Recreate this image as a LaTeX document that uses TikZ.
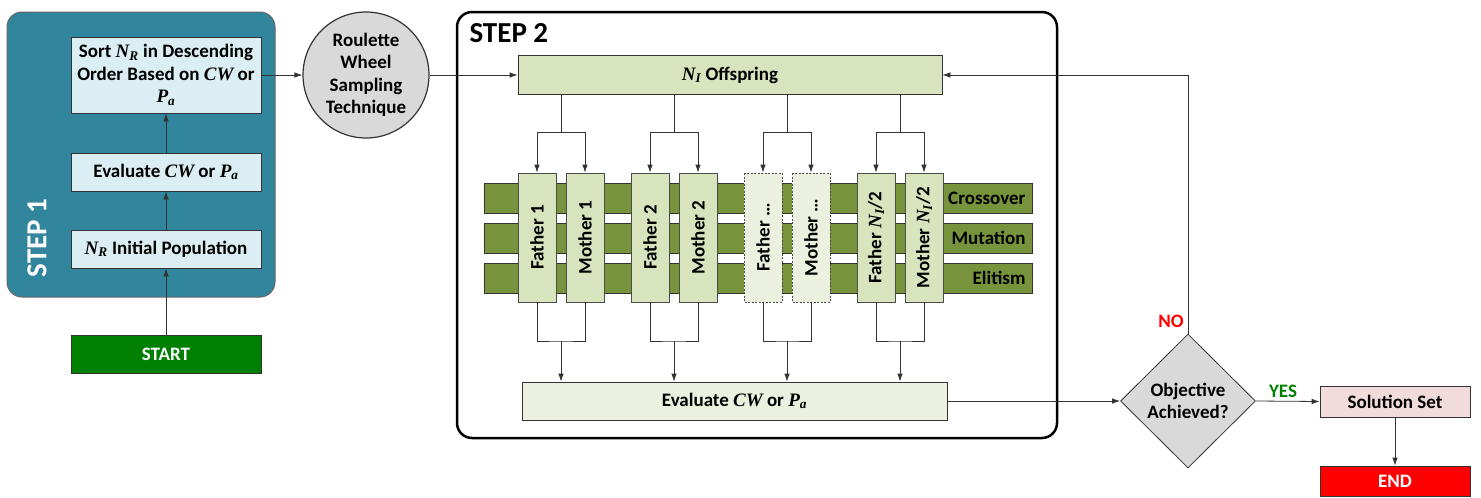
\documentclass[tikz,border=0pt]{standalone}
\usepackage{fontspec}
\setmainfont{Carlito}
\newfontfamily\tms{Liberation Serif}
\usepackage{xcolor}
\usetikzlibrary{shapes.geometric,arrows.meta,calc}

\definecolor{stepteal}{HTML}{31859C}
\definecolor{lightaqua}{HTML}{DAEEF3}
\definecolor{olivebar}{HTML}{77933C}
\definecolor{olivebox}{HTML}{D7E4BD}
\definecolor{olivepale}{HTML}{EBF1DE}
\definecolor{lightgrey}{HTML}{D9D9D9}
\definecolor{pinkish}{HTML}{F2DCDB}
\definecolor{startgreen}{RGB}{0,128,0}

\newcommand{\var}[1]{{\tms\itshape #1}}
\newcommand{\sym}[2]{{\tms\itshape #1\textsubscript{#2}}}

\begin{document}
\begin{tikzpicture}[x=1pt,y=-1pt,
    font=\fontsize{19}{22.5}\selectfont\bfseries,
    >={Latex[length=8pt,width=5.5pt]},
    box/.style={draw=black!80, line width=0.8pt, minimum width=190pt,
      minimum height=38pt, inner sep=2pt, align=center},
    pair/.style={draw=black!70, line width=0.8pt, fill=olivebox, rotate=90,
      minimum width=129pt, minimum height=38pt, inner sep=0pt},
    pairdash/.style={pair, fill=olivepale, dash pattern=on 2pt off 1.5pt},
    bar/.style={draw=black!80, line width=0.8pt, fill=olivebar,
      minimum width=548pt, minimum height=30pt, inner sep=0pt},
    line/.style={draw=black!80, line width=0.8pt},
    steplab/.style={font=\fontsize{29}{31}\selectfont\bfseries}]
  \useasboundingbox (0,0) rectangle (1481,498);

  % step 1
  \node[draw=black!60, line width=1pt, fill=stepteal, rounded corners=15pt,
    minimum width=268pt, minimum height=285pt] (step1) at (141,154.5) {};
  \node[steplab, rotate=90, text=white] (s1lab) at (37,238) {STEP 1};
  \node[box, fill=lightaqua, minimum height=76pt] (sort) at (166,75)
    {Sort \sym{N}{R} in Descending\\Order Based on \var{CW} or\\\sym{P}{a}};
  \node[box, fill=lightaqua] (eva) at (166,172) {Evaluate \var{CW} or \sym{P}{a}};
  \node[box, fill=lightaqua] (init) at (166,249) {\sym{N}{R} Initial Population};
  \node[box, fill=startgreen, text=white] (start) at (166,354) {START};
  \draw[line,->] (start) -- (init);
  \draw[line,->] (init) -- (eva);
  \draw[line,->] (eva) -- (sort);

  \node[circle, draw=black!80, line width=1.2pt, fill=lightgrey, minimum size=126pt,
    inner sep=0pt, align=center] (roul) at (366,75) {Roulette\\Wheel\\Sampling\\Technique};
  \draw[line,->] (sort.east) -- (roul.west);

  % step 2
  \node[draw=black, line width=2.5pt, rounded corners=15pt,
    minimum width=600pt, minimum height=426pt] (step2) at (757,225) {};
  \node[steplab, anchor=west] (s2lab) at (466,33) {STEP 2};
  \node[box, fill=olivebox, minimum width=424pt, minimum height=39pt] (off) at (730,75)
    {\sym{N}{I} Offspring};
  \draw[line,->] (roul.east) -- (off.west);

  \foreach \y/\lab in {198/Crossover, 238/Mutation, 278/Elitism} {
    \node[bar] (bar\lab) at (758,\y) {};
    \node[anchor=east] (lab\lab) at (1029,\y) {\lab};
  }

  \node[box, fill=olivepale, minimum width=425pt] (evb) at (734.5,401)
    {Evaluate \var{CW} or \sym{P}{a}};

  \foreach \i/\xf/\xm/\n/\st in {1/537/585/1/pair, 2/650/698/2/pair,
      3/763/811/\ldots/pairdash, 4/876/924/{\sym{N}{I}/2}/pair} {
    \node[\st] (f\i) at (\xf,237.5) {Father \n};
    \node[\st] (m\i) at (\xm,237.5) {Mother \n};
    \coordinate (t\i) at ({(\xf+\xm)/2},132);
    \coordinate (b\i) at ({(\xf+\xm)/2},341);
    \draw[line] (off.south -| t\i) -- (t\i);
    \draw[line,->] (t\i) -| (f\i.east);
    \draw[line,->] (t\i) -| (m\i.east);
    \draw[line] (f\i.west) |- (b\i) -| (m\i.west);
    \draw[line,->] (b\i) -- (evb.north -| b\i);
  }

  % decision
  \node[diamond, draw=black!80, line width=0.8pt, fill=lightgrey, aspect=1,
    minimum width=135pt, minimum height=134pt, inner sep=0pt, align=center]
    (obj) at (1188,401) {Objective\\Achieved?};
  \node[box, fill=pinkish, minimum width=150pt, minimum height=31pt] (sol) at (1395,401.5)
    {Solution Set};
  \node[box, fill=red, text=white, minimum width=150pt, minimum height=30pt] (end) at (1395,481)
    {END};
  \node[text=red] (no) at (1171,321) {NO};
  \node[text=startgreen] (yes) at (1283,391) {YES};

  \draw[line,->] (evb.east) -- (obj.west);
  \draw[line,->] (obj.north) |- (off.east);
  \draw[line,->] (obj.east) -- (sol.west);
  \draw[line,->] (sol) -- (end);
\end{tikzpicture}
\end{document}
